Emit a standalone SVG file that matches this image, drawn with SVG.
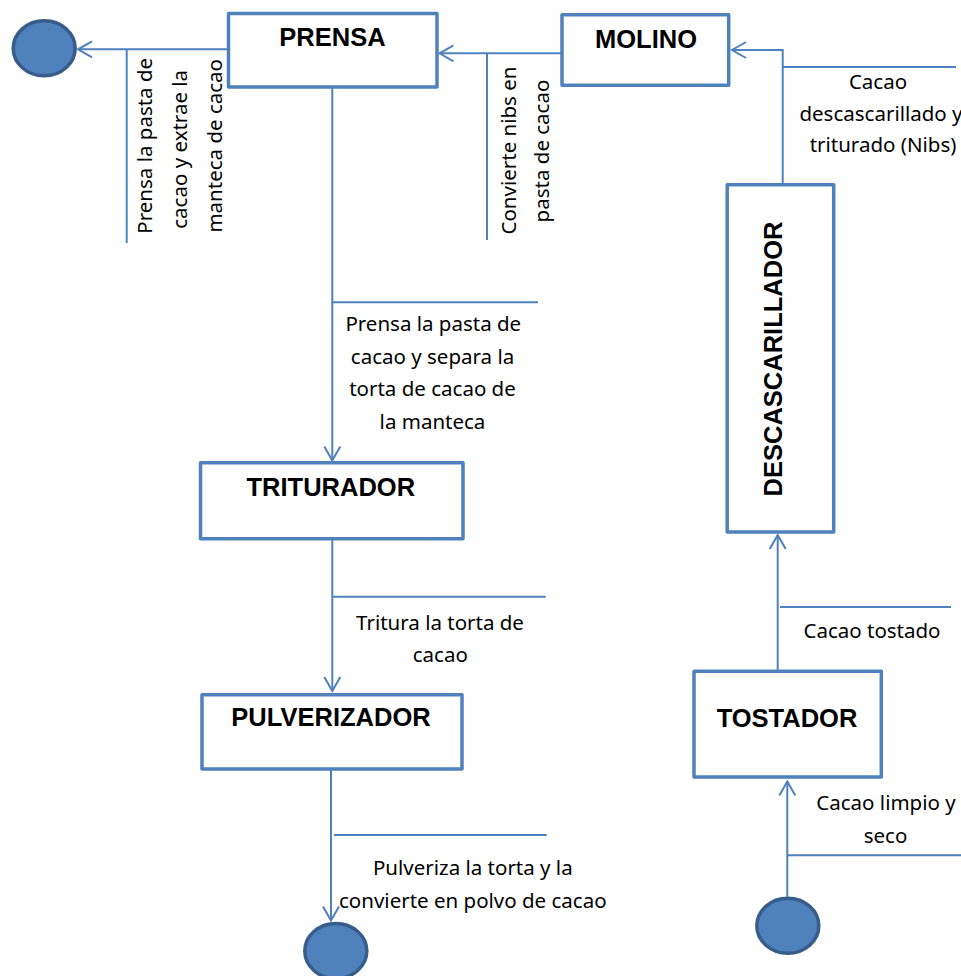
<svg xmlns="http://www.w3.org/2000/svg" width="961" height="976" viewBox="0 0 961 976">
  <style>
    .box { fill: #FFFFFF; stroke: #4F81BD; stroke-width: 3.5; stroke-linejoin: round; }
    .term { fill: #4F81BD; stroke: #385D8A; stroke-width: 3.5; }
    .title { font-family: "Liberation Sans", Arial, sans-serif; font-weight: bold; font-size: 25.5px; fill: #000000; text-anchor: middle; }
    .lbl { font-family: "Noto Sans", "Open Sans", sans-serif; font-size: 20.5px; fill: #000000; text-anchor: middle; }
    .wire { fill: none; stroke: #4F81BD; stroke-width: 2; }
  </style>
  <defs>
    <marker id="open" viewBox="-16 -10 18 20" refX="0" refY="0" markerWidth="18" markerHeight="20" markerUnits="userSpaceOnUse" orient="auto">
      <path d="M-14,-8 L0,0 L-14,8" fill="none" stroke="#4F81BD" stroke-width="2"/>
    </marker>
  </defs>

  <!-- connectors -->
  <g id="connectors">
    <path class="wire" d="M228,49.3 H78" marker-end="url(#open)"/>
    <path class="wire" d="M126.7,49.3 V243"/>
    <path class="wire" d="M562,53.3 H439.5" marker-end="url(#open)"/>
    <path class="wire" d="M487,53.3 V240"/>
    <path class="wire" d="M782.7,184.7 V50 H732" marker-end="url(#open)"/>
    <path class="wire" d="M783,67 H956"/>
    <path class="wire" d="M332.3,87 V460.5" marker-end="url(#open)"/>
    <path class="wire" d="M332.3,302.3 H538"/>
    <path class="wire" d="M332.3,538.7 V691" marker-end="url(#open)"/>
    <path class="wire" d="M332.3,596.7 H545.7"/>
    <path class="wire" d="M331,769 V920.5" marker-end="url(#open)"/>
    <path class="wire" d="M334,835 H546.7"/>
    <path class="wire" d="M777.7,671.3 V535" marker-end="url(#open)"/>
    <path class="wire" d="M780,607 H951"/>
    <path class="wire" d="M787.3,896.7 V781.5" marker-end="url(#open)"/>
    <path class="wire" d="M787.3,855.3 H961"/>
  </g>

  <!-- connector labels -->
  <g id="labels">
    <g class="lbl">
      <text transform="translate(151.5,145.8) rotate(-90)">Prensa la pasta de</text>
      <text transform="translate(186.5,149.3) rotate(-90)">cacao y extrae la</text>
      <text transform="translate(221.5,145.8) rotate(-90)">manteca de cacao</text>

      <text transform="translate(516,150.5) rotate(-90)">Convierte nibs en</text>
      <text transform="translate(548.5,151) rotate(-90)">pasta de cacao</text>

      <text x="878" y="89">Cacao</text>
      <text x="881" y="120.5">descascarillado y</text>
      <text x="883" y="152">triturado (Nibs)</text>

      <text x="433.3" y="331">Prensa la pasta de</text>
      <text x="432.5" y="363.5">cacao y separa la</text>
      <text x="432.5" y="396">torta de cacao de</text>
      <text x="432.5" y="428.5">la manteca</text>

      <text x="440" y="630">Tritura la torta de</text>
      <text x="440.3" y="661.7">cacao</text>

      <text x="472.8" y="875">Pulveriza la torta y la</text>
      <text x="472.8" y="907.7">convierte en polvo de cacao</text>

      <text x="872" y="638">Cacao tostado</text>

      <text x="886" y="810">Cacao limpio y</text>
      <text x="885.5" y="843">seco</text>
    </g>
  </g>

  <!-- terminal: end of butter branch -->
  <g id="end-manteca">
    <ellipse class="term" cx="44.2" cy="48.3" rx="31" ry="27.5"/>
  </g>

  <g id="prensa">
    <rect class="box" x="228.5" y="13.5" width="208.5" height="73.5"/>
    <text class="title" x="332.5" y="46">PRENSA</text>
  </g>

  <g id="molino">
    <rect class="box" x="562" y="14.7" width="166.7" height="70.6"/>
    <text class="title" x="646" y="48">MOLINO</text>
  </g>

  <g id="descascarillador">
    <rect class="box" x="727.2" y="184.7" width="106.5" height="347.3"/>
    <text class="title" transform="translate(782,359) rotate(-90)">DESCASCARILLADOR</text>
  </g>

  <g id="triturador">
    <rect class="box" x="200.5" y="462.8" width="262.5" height="75.9"/>
    <text class="title" x="330.8" y="496">TRITURADOR</text>
  </g>

  <g id="pulverizador">
    <rect class="box" x="202" y="694.7" width="260" height="74.3"/>
    <text class="title" x="331" y="726">PULVERIZADOR</text>
  </g>

  <g id="tostador">
    <rect class="box" x="694" y="671.3" width="187.3" height="105.7"/>
    <text class="title" x="787" y="727">TOSTADOR</text>
  </g>

  <!-- terminal: start (clean dry cacao) -->
  <g id="start">
    <ellipse class="term" cx="787.8" cy="925.8" rx="31" ry="27.5"/>
  </g>

  <!-- terminal: end of powder branch -->
  <g id="end-polvo">
    <ellipse class="term" cx="335.8" cy="951" rx="31" ry="27.5"/>
  </g>
</svg>
